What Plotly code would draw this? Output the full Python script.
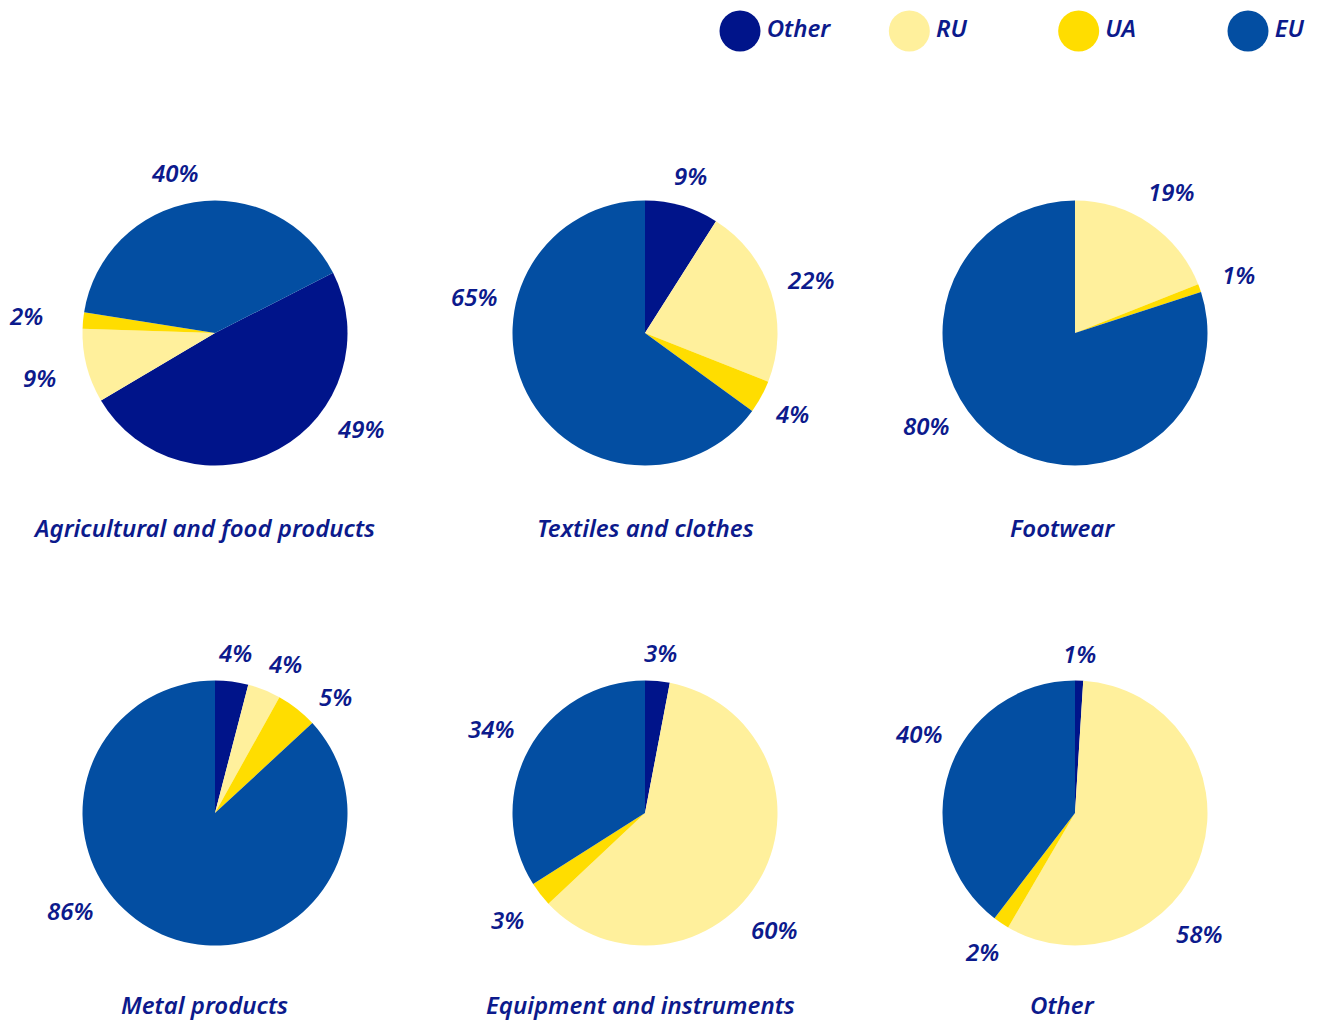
import math
import plotly.graph_objects as go

# ---------------- data ----------------
categories = ["Other", "RU", "UA", "EU"]
pie_titles = ["Agricultural and food products", "Textiles and clothes", "Footwear",
              "Metal products", "Equipment and instruments", "Other"]
agri_values = [49, 9, 2, 40]
textiles_values = [9, 22, 4, 65]
footwear_values = [0, 19, 1, 80]
metal_values = [4, 4, 5, 86]
equipment_values = [3, 60, 3, 34]
other_values = [1, 58, 2, 40]
all_values = [agri_values, textiles_values, footwear_values,
              metal_values, equipment_values, other_values]

# ---------------- style / layout ----------------
W, H = 1326, 1020
colors = ["#00148a", "#fff09c", "#ffdd00", "#034ea2"]
text_color = "#0c1a8c"
FONT = "Noto Sans"
R = 132.5
centers = [(215, 333), (645, 333), (1075, 333),
           (215, 813), (645, 813), (1075, 813)]
rotations = [63, 0, 0, 0, 0, 0]
# label placement tweaks: angle (deg clockwise from 12 o'clock) and extra distance (px)
label_angle_override = {(0, 0): 123, (0, 3): 346, (1, 3): 282, (2, 3): 238,
                        (3, 1): 25, (3, 2): 46, (3, 3): 236,
                        (4, 1): 132, (5, 1): 134, (5, 3): 297}
label_extra_dist = {(0, 1): 14, (0, 2): 24, (2, 2): 6, (4, 2): 6}
title_x = [204, 645, 1062, 204, 640, 1062]
title_y = [527, 527, 527, 1004, 1004, 1004]


def px_to_paper(x, y):
    return x / W, 1 - y / H


fig = go.Figure()
annotations = []

for i, vals in enumerate(all_values):
    cx, cy = centers[i]
    x0, y1 = px_to_paper(cx - R, cy - R)
    x1, y0 = px_to_paper(cx + R, cy + R)
    fig.add_trace(go.Pie(
        labels=categories, values=vals, sort=False, direction="clockwise",
        rotation=rotations[i], marker=dict(colors=colors, line=dict(width=0)),
        textinfo="none", hoverinfo="label+percent", showlegend=False,
        domain=dict(x=[x0, x1], y=[y0, y1]),
    ))
    total = sum(vals)
    ang = rotations[i]
    for j, v in enumerate(vals):
        span = v / total * 360
        mid = ang + span / 2
        ang += span
        if v == 0:
            continue
        a = label_angle_override.get((i, j), mid)
        rad = math.radians(a)
        sx, sy = math.sin(rad), -math.cos(rad)
        txt = f"{v}%"
        hw = 8 * len(txt)
        hh = 11
        d = R + 16 + abs(sx) * hw + abs(sy) * hh + label_extra_dist.get((i, j), 0)
        px, py = px_to_paper(cx + sx * d, cy + sy * d)
        annotations.append(dict(
            x=px, y=py, xref="paper", yref="paper", text=txt, showarrow=False,
            xanchor="center", yanchor="middle",
            font=dict(family=FONT, size=24, color=text_color, style="italic", weight=600),
        ))
    tx, ty = px_to_paper(title_x[i], title_y[i])
    annotations.append(dict(
        x=tx, y=ty, xref="paper", yref="paper", text=pie_titles[i], showarrow=False,
        xanchor="center", yanchor="middle",
        font=dict(family=FONT, size=24, color=text_color, style="italic", weight=600),
    ))

# legend drawn as a scatter row over the categories
fig.add_trace(go.Scatter(
    x=list(range(len(categories))), y=[0] * len(categories),
    mode="markers+text", text=categories, textposition="middle right",
    marker=dict(size=41, color=colors, line=dict(width=0)),
    textfont=dict(family=FONT, size=24, color=text_color, style="italic", weight=600),
    showlegend=False, hoverinfo="skip", cliponaxis=False,
    xaxis="x", yaxis="y",
))
unit = (1248 - 740) / 3
fig.update_layout(
    width=W, height=H, margin=dict(l=0, r=0, t=0, b=0),
    paper_bgcolor="white", plot_bgcolor="rgba(0,0,0,0)",
    annotations=annotations,
    xaxis=dict(domain=[0, 1], range=[-740 / unit, (W - 740) / unit], visible=False, fixedrange=True),
    yaxis=dict(domain=[1 - 60 / H, 1], range=[-0.967, 1.033], visible=False, fixedrange=True),
)

fig.write_html("out.html", config={"displayModeBar": False},
               post_script="document.body.style.margin='0px';document.body.style.overflow='hidden';")
